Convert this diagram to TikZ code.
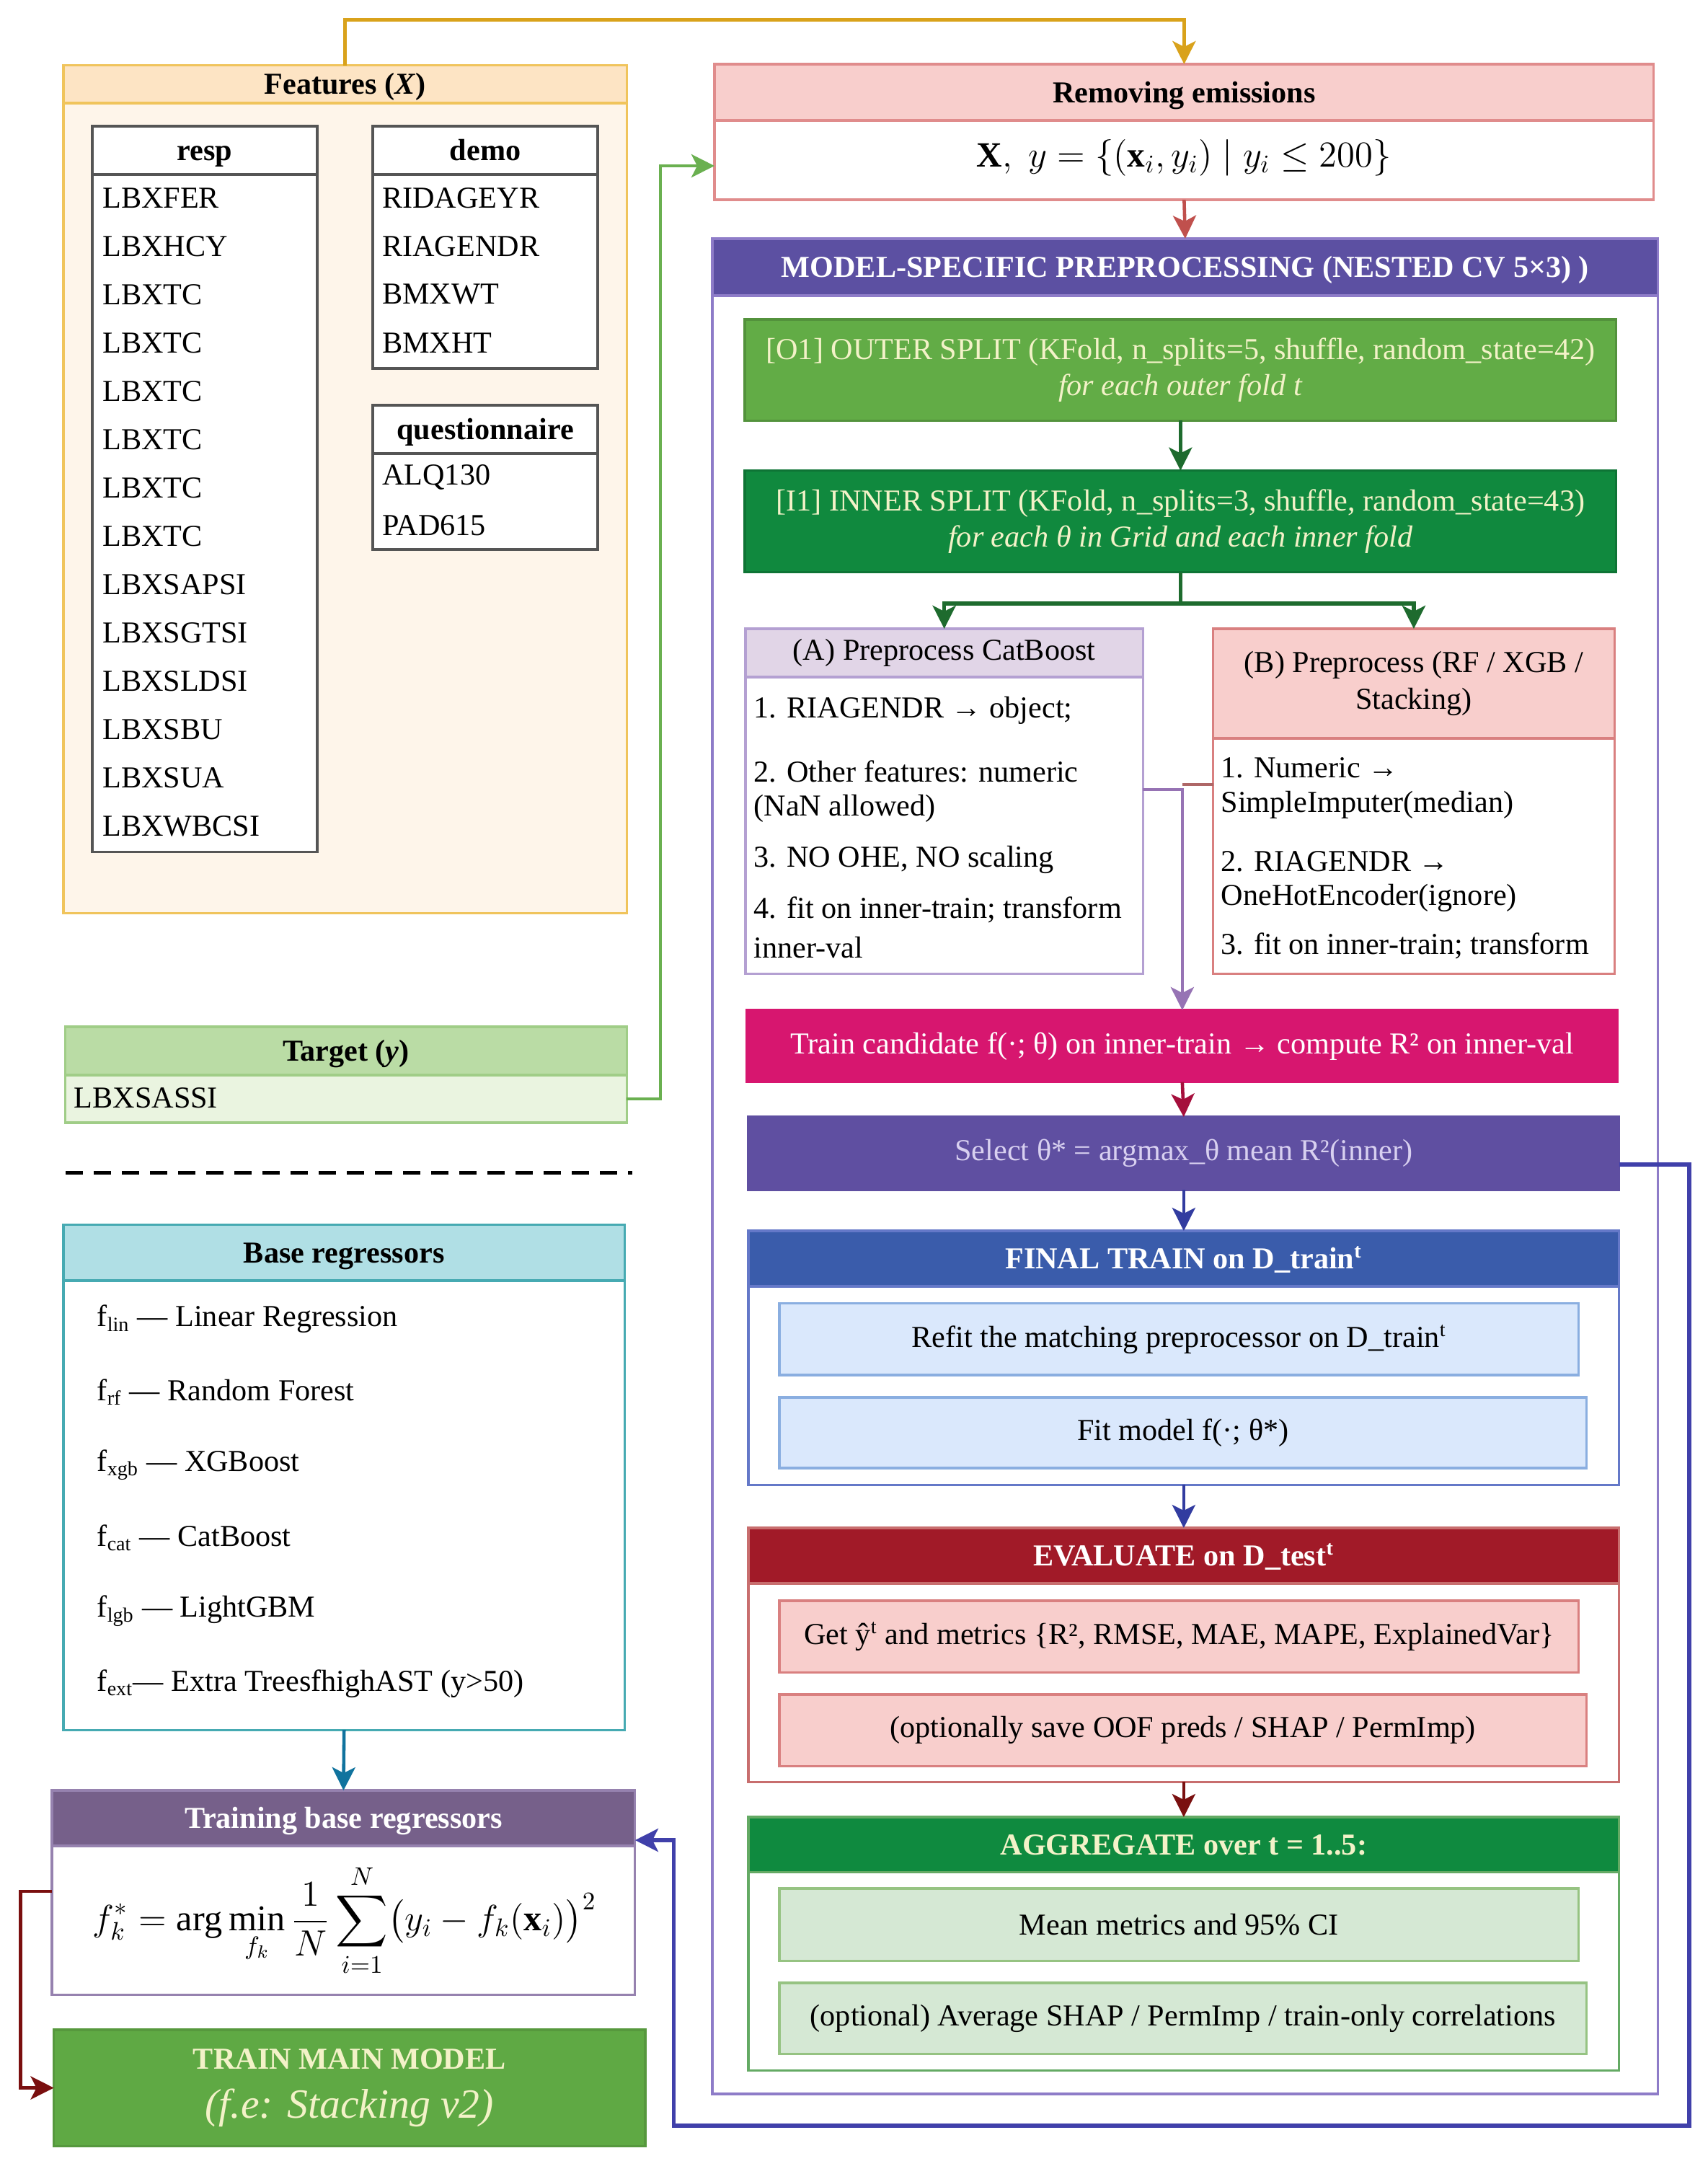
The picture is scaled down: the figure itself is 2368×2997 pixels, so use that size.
\documentclass[tikz,border=0pt]{standalone}
\usepackage{fontspec}
\setmainfont{Liberation Serif}
\usepackage{amsmath, amssymb}
\usetikzlibrary{arrows.meta, positioning, calc}

\definecolor{featline}{RGB}{217,162,27}
\definecolor{featedge}{RGB}{240,196,92}
\definecolor{feathead}{RGB}{253,228,196}
\definecolor{featbody}{RGB}{254,245,234}
\definecolor{tabedge}{RGB}{85,85,85}
\definecolor{tgtedge}{RGB}{160,205,135}
\definecolor{tgthead}{RGB}{186,220,165}
\definecolor{tgtbody}{RGB}{234,244,224}
\definecolor{tgtline}{RGB}{106,176,80}
\definecolor{remedge}{RGB}{224,140,140}
\definecolor{remhead}{RGB}{248,206,204}
\definecolor{remline}{RGB}{192,80,77}
\definecolor{msedge}{RGB}{142,124,200}
\definecolor{mshead}{RGB}{92,80,162}
\definecolor{outerfill}{RGB}{98,172,70}
\definecolor{innerfill}{RGB}{16,137,62}
\definecolor{splitline}{RGB}{30,107,46}
\definecolor{catedge}{RGB}{180,160,210}
\definecolor{cathead}{RGB}{225,213,231}
\definecolor{catline}{RGB}{150,115,180}
\definecolor{rfedge}{RGB}{217,128,128}
\definecolor{candfill}{RGB}{215,22,111}
\definecolor{candline}{RGB}{165,15,60}
\definecolor{selfill}{RGB}{95,79,161}
\definecolor{selline}{RGB}{50,60,160}
\definecolor{finhead}{RGB}{58,92,171}
\definecolor{finedge}{RGB}{100,120,200}
\definecolor{bluebox}{RGB}{218,232,252}
\definecolor{blueedge}{RGB}{138,174,224}
\definecolor{evhead}{RGB}{161,26,40}
\definecolor{evedge}{RGB}{200,110,110}
\definecolor{evline}{RGB}{122,16,16}
\definecolor{aghead}{RGB}{15,138,63}
\definecolor{agedge}{RGB}{100,170,100}
\definecolor{greenbox}{RGB}{213,232,212}
\definecolor{greenedge}{RGB}{150,195,130}
\definecolor{basedge}{RGB}{70,170,178}
\definecolor{bashead}{RGB}{176,223,229}
\definecolor{basline}{RGB}{16,115,158}
\definecolor{trhead}{RGB}{118,96,138}
\definecolor{tredge}{RGB}{150,130,175}
\definecolor{mainfill}{RGB}{95,169,68}
\definecolor{loopline}{RGB}{64,64,170}
\definecolor{mainline}{RGB}{122,15,15}
\definecolor{creamtxt}{RGB}{243,242,200}
\definecolor{lavtxt}{RGB}{216,208,240}

\tikzset{
  pane/.style={draw, rectangle, anchor=north west, inner sep=0pt, outer sep=0pt, line width=0.9pt, align=center, font=\fontsize{12}{14.4}\selectfont},
  panehead/.style={pane, font=\fontsize{12}{14.4}\selectfont\bfseries, text height=0.85em, text depth=0.05em},
  cell/.style={anchor=west, inner sep=0pt, font=\fontsize{12}{14.4}\selectfont},
  flow/.style={-{Stealth[length=0.32cm, width=0.32cm, inset=0.08cm]}, line width=1.3pt},
}

\begin{document}
\begin{tikzpicture}[x=0.01cm, y=-0.01cm]
  \fill[white] (0,0) rectangle (2368,2997);
  \useasboundingbox (0,0) rectangle (2368,2997);

  % Features (X) with its three tables
  \node[pane, draw=featedge, fill=featbody, minimum width=7.81cm, minimum height=11.23cm] (featb) at (88,143) {};
  \node[panehead, draw=featedge, fill=feathead, minimum width=7.81cm, minimum height=0.524cm] (feath) at (88,90.6) {Features (\textit{X})};

  \node[pane, draw=tabedge, fill=white, line width=1.1pt, minimum width=3.12cm, minimum height=9.39cm] (respb) at (128,242) {};
  \node[panehead, draw=tabedge, fill=white, line width=1.1pt, minimum width=3.12cm, minimum height=0.67cm] (resph) at (128,175) {resp};
  \foreach \t [count=\i] in {LBXFER, LBXHCY, LBXTC, LBXTC, LBXTC, LBXTC, LBXTC, LBXTC, LBXSAPSI, LBXSGTSI, LBXSLDSI, LBXSBU, LBXSUA, LBXWBCSI}
    \node[cell] (resp\i) at (141.6, {274.5+67*(\i-1)}) {\t};

  \node[pane, draw=tabedge, fill=white, line width=1.1pt, minimum width=3.12cm, minimum height=2.69cm] (demob) at (517,242) {};
  \node[panehead, draw=tabedge, fill=white, line width=1.1pt, minimum width=3.12cm, minimum height=0.67cm] (demoh) at (517,175) {demo};
  \foreach \t [count=\i] in {RIDAGEYR, RIAGENDR, BMXWT, BMXHT}
    \node[cell] (demo\i) at (529.5, {274.5+67*(\i-1)}) {\t};

  \node[pane, draw=tabedge, fill=white, line width=1.1pt, minimum width=3.12cm, minimum height=1.33cm] (questb) at (517,629) {};
  \node[panehead, draw=tabedge, fill=white, line width=1.1pt, minimum width=3.12cm, minimum height=0.674cm] (questh) at (517,561.6) {questionnaire};
  \foreach \t [count=\i] in {ALQ130, PAD615}
    \node[cell] (quest\i) at (529.5, {662+67*(\i-1)}) {\t};

  % Target (y)
  \node[panehead, draw=tgtedge, fill=tgthead, minimum width=7.784cm, minimum height=0.67cm] (tgth) at (90.6,1424) {Target (\textit{y})};
  \node[pane, draw=tgtedge, fill=tgtbody, minimum width=7.784cm, minimum height=0.66cm] (tgtb) at (90.6,1491) {};
  \node[cell] (tgtv) at (102,1523) {LBXSASSI};

  \draw[line width=1.4pt, dash pattern=on 0.24cm off 0.15cm] (91,1626.5) -- (877,1626.5);

  % Base regressors
  \node[panehead, draw=basedge, fill=bashead, minimum width=7.78cm, minimum height=0.775cm] (bash) at (88,1698.5) {Base regressors};
  \node[pane, draw=basedge, fill=white, minimum width=7.78cm, minimum height=6.227cm] (basb) at (88,1776) {};
  \foreach \t [count=\i] in {{f\textsubscript{lin} — Linear Regression}, {f\textsubscript{rf} — Random Forest}, {f\textsubscript{xgb} — XGBoost}, {f\textsubscript{cat} — CatBoost}, {f\textsubscript{lgb} — LightGBM}, {f\textsubscript{ext}— Extra TreesfhighAST (y>50)}}
    \node[cell] (base\i) at (134, {1829.6+101.1*(\i-1)}) {\t};

  % Training base regressors
  \node[panehead, draw=tredge, fill=trhead, text=white, minimum width=8.084cm, minimum height=0.77cm] (trh) at (72,2483) {Training base regressors};
  \node[pane, draw=tredge, fill=white, minimum width=8.084cm, minimum height=2.06cm] (trb) at (72,2560) {};
  \node[font=\fontsize{14.3}{17}\selectfont] (trf) at (478,2663.6) {$\displaystyle f_k^{*} = \arg\min_{f_k} \frac{1}{N}\sum_{i=1}^{N}\bigl(y_i - f_k(\mathbf{x}_i)\bigr)^2$};

  % Main model
  \node[pane, draw=mainfill!90!black, fill=mainfill, text=creamtxt, minimum width=8.199cm, minimum height=1.61cm] (tmm) at (74.6,2815)
    {\textbf{TRAIN MAIN MODEL}\\[5pt]{\fontsize{16.4}{19}\selectfont\itshape (f.e: Stacking v2)}};

  % Removing emissions
  \node[panehead, draw=remedge, fill=remhead, minimum width=13.02cm, minimum height=0.78cm] (remh) at (991,89) {Removing emissions};
  \node[pane, draw=remedge, fill=white, minimum width=13.02cm, minimum height=1.10cm] (remb) at (991,167) {};
  \node[font=\fontsize{14}{17}\selectfont] (remf) at (1642,219) {$\mathbf{X},\; y = \{(\mathbf{x}_i, y_i) \mid y_i \le 200\}$};

  % Nested CV block
  \node[pane, draw=msedge, fill=white, minimum width=13.11cm, minimum height=24.925cm] (msb) at (988,410) {};
  \node[panehead, draw=msedge, fill=mshead, text=white, minimum width=13.11cm, minimum height=0.79cm] (msh) at (988,331) {MODEL-SPECIFIC PREPROCESSING (NESTED CV 5×3) )};

  \node[pane, draw=outerfill!85!black, fill=outerfill, text=creamtxt, minimum width=12.08cm, minimum height=1.40cm] (o1) at (1033,443)
    {[O1] OUTER SPLIT (KFold, n\_splits=5, shuffle, random\_state=42)\\\textit{for each outer fold t}};
  \node[pane, draw=innerfill!85!black, fill=innerfill, text=creamtxt, minimum width=12.08cm, minimum height=1.41cm] (i1) at (1033,652.6)
    {[I1] INNER SPLIT (KFold, n\_splits=3, shuffle, random\_state=43)\\\textit{for each θ in Grid and each inner fold}};

  % (A) CatBoost branch
  \node[pane, draw=catedge, fill=cathead, minimum width=5.51cm, minimum height=0.67cm] (ah) at (1034,872) {(A) Preprocess CatBoost};
  \node[pane, draw=catedge, fill=white, minimum width=5.51cm, minimum height=4.11cm] (ab) at (1034,939) {};
  \foreach \yy/\t [count=\i] in {985/{1. RIAGENDR → object;}, 1070/{2. Other features: numeric}, 1121/{(NaN allowed)}, 1192/{3. NO OHE, NO scaling}, 1262/{4. fit on inner-train; transform}, 1314/{inner-val}}
    \node[cell] (a\i) at (1045,\yy) {\t};

  % (B) RF / XGB / Stacking branch
  \node[pane, draw=rfedge, fill=remhead, minimum width=5.565cm, minimum height=1.52cm] (bh) at (1682.5,872) {(B) Preprocess (RF / XGB /\\Stacking)};
  \node[pane, draw=rfedge, fill=white, minimum width=5.565cm, minimum height=3.26cm] (bb) at (1682.5,1024) {};
  \foreach \yy/\t [count=\i] in {1065/{1. Numeric →}, 1116/{SimpleImputer(median)}, 1195/{2. RIAGENDR →}, 1245.5/{OneHotEncoder(ignore)}, 1312/{3. fit on inner-train; transform}}
    \node[cell] (b\i) at (1693,\yy) {\t};

  \node[pane, draw=candfill, fill=candfill, text=white, minimum width=12.07cm, minimum height=0.995cm] (cand) at (1036,1401)
    {Train candidate f(·; θ) on inner-train → compute R² on inner-val};
  \node[pane, draw=selfill, fill=selfill, text=lavtxt, minimum width=12.07cm, minimum height=1.01cm] (sel) at (1038,1549)
    {Select θ* = argmax\_θ mean R²(inner)};

  % Final train
  \node[panehead, draw=finedge, fill=finhead, text=white, minimum width=12.07cm, minimum height=0.77cm] (finh) at (1038,1707) {FINAL TRAIN on D\_train\textsuperscript{t}};
  \node[pane, draw=finedge, fill=white, minimum width=12.07cm, minimum height=2.75cm] (finb) at (1038,1784) {};
  \node[pane, draw=blueedge, fill=bluebox, minimum width=11.08cm, minimum height=0.994cm] (refit) at (1081,1807.6) {Refit the matching preprocessor on D\_train\textsuperscript{t}};
  \node[pane, draw=blueedge, fill=bluebox, minimum width=11.19cm, minimum height=0.98cm] (fitm) at (1081,1938) {Fit model f(·; θ*)};

  % Evaluate
  \node[panehead, draw=evedge, fill=evhead, text=white, minimum width=12.07cm, minimum height=0.77cm] (evh) at (1038,2119) {EVALUATE on D\_test\textsuperscript{t}};
  \node[pane, draw=evedge, fill=white, minimum width=12.07cm, minimum height=2.75cm] (evb) at (1038,2196) {};
  \node[pane, draw=rfedge, fill=remhead, minimum width=11.08cm, minimum height=0.99cm] (gety) at (1081,2220) {Get ŷ\textsuperscript{t} and metrics \{R², RMSE, MAE, MAPE, ExplainedVar\}};
  \node[pane, draw=rfedge, fill=remhead, minimum width=11.19cm, minimum height=0.99cm] (oof) at (1081,2350) {(optionally save OOF preds / SHAP / PermImp)};

  % Aggregate
  \node[panehead, draw=agedge, fill=aghead, text=creamtxt, minimum width=12.07cm, minimum height=0.765cm] (agh) at (1038,2520) {AGGREGATE over t = 1..5:};
  \node[pane, draw=agedge, fill=white, minimum width=12.07cm, minimum height=2.745cm] (agb) at (1038,2596.5) {};
  \node[pane, draw=greenedge, fill=greenbox, minimum width=11.08cm, minimum height=1.005cm] (meanm) at (1081,2619) {Mean metrics and 95\% CI};
  \node[pane, draw=greenedge, fill=greenbox, minimum width=11.19cm, minimum height=0.98cm] (avgs) at (1081,2750) {(optional) Average SHAP / PermImp / train-only correlations};

  % Connectors
  \draw[flow, featline] (feath.north) -- ++(0,-62.9) -| (remh.north);
  \draw[flow, tgtline] (tgtb.east) -- ++(46.5,0) |- ([yshift=-0.08cm]remb.west);
  \draw[flow, remline] (remb.south) -- (msh.north);
  \draw[flow, splitline] (o1.south) -- (i1.north);
  \draw[line width=1.6pt, splitline] (i1.south) -- ++(0,43) coordinate (split);
  \draw[flow, line width=1.6pt, splitline] (split) -| (ah.north);
  \draw[flow, line width=1.6pt, splitline] (split) -| (bh.north);
  \coordinate (aout) at ([yshift=0.495cm]ab.east);
  \coordinate (bout) at ([yshift=0.99cm]bb.west);
  \draw[line width=1.3pt, rfedge!80!black] (bout) -- (bout -| cand.north);
  \draw[flow, catline] (aout) -| (cand.north);
  \draw[flow, candline] (cand.south) -- (sel.north);
  \draw[flow, selline] (sel.south) -- (finh.north);
  \draw[flow, selline] (finb.south) -- (evh.north);
  \draw[flow, evline] (evb.south) -- (agh.north);
  \draw[flow, basline] (basb.south) -- (trh.north);
  \coordinate (loopc) at (2343,2948);
  \coordinate (loopd) at (934.7,2948);
  \draw[flow, loopline, line width=1.5pt] ([yshift=-0.155cm]sel.east) -| (loopc) -- (loopd) |- ([yshift=-0.305cm]trh.east);
  \draw[flow, mainline] ([yshift=0.4cm]trb.west) -- ++(-43.3,0) |- (tmm.west);
\end{tikzpicture}
\end{document}
